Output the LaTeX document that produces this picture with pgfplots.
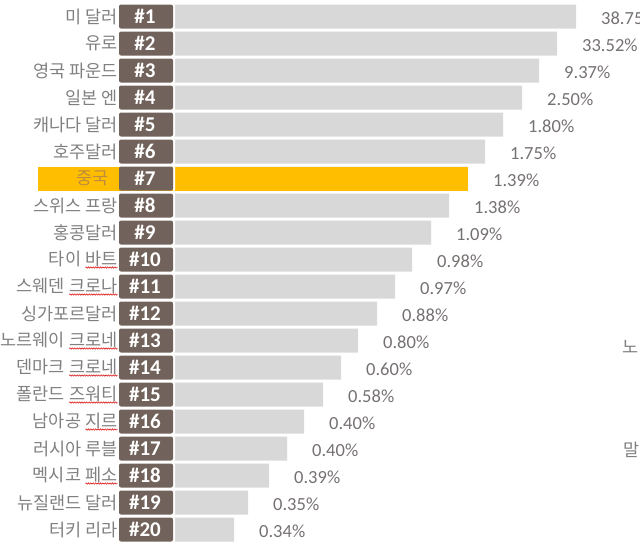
\documentclass[border=0pt]{standalone}
\usepackage{fontspec}
\setmainfont{Carlito}
\newfontfamily\kr{Noto Sans CJK KR}
\usepackage{pgfplots}
\usepackage{pgfplotstable}
\pgfplotsset{compat=1.18}
\usetikzlibrary{decorations.pathmorphing}
\definecolor{bargray}{RGB}{216,216,216}
\definecolor{boxbrown}{RGB}{113,99,91}
\definecolor{hl}{RGB}{255,191,0}
\definecolor{lblgray}{RGB}{128,128,128}
\definecolor{valgray}{RGB}{118,113,113}
\definecolor{tanc}{RGB}{190,140,60}
\newcommand\sq[1]{\tikz[baseline=(w.base)]{\node[inner sep=0pt, outer sep=0pt, anchor=base, xshift=0pt, yshift=0pt] (w) {#1};
  \draw[red!85!black, line width=0.5bp, decorate, decoration={snake, amplitude=0.7bp, segment length=2.4bp}] ([yshift=-2.5bp]w.base west) -- ([yshift=-2.5bp]w.base east);}}

\pgfplotstableread{
r len lab
1 403 38.75\%
2 384 33.52\%
3 366 9.37\%
4 349 2.50\%
5 330 1.80\%
6 312 1.75\%
7 295 1.39\%
8 276 1.38\%
9 258 1.09\%
10 239 0.98\%
11 222 0.97\%
12 204 0.88\%
13 185 0.80\%
14 168 0.60\%
15 150 0.58\%
16 131 0.40\%
17 114 0.40\%
18 96 0.39\%
19 75 0.35\%
20 61 0.34\%
}\data

\begin{document}
\begin{tikzpicture}
\begin{axis}[
  scale only axis, x=1bp, y=27bp, y dir=reverse,
  xmin=-173, xmax=467, ymin=0.389, ymax=20.574,
  axis on top,
  axis line style={draw=none}, major tick length=0pt, xtick=\empty,
  ytick={1,...,20},
  yticklabels={미 달러, 유로, 영국 파운드, 일본 엔, 캐나다 달러, 호주달러, {\textcolor{tanc}{중국}\hspace*{9bp}}, 스위스 프랑, 홍콩달러, 타이 \sq{바트}, 스웨덴 \sq{크로나}, 싱가포르달러, 노르웨이 \sq{크로네}, 덴마크 \sq{크로네}, 폴란드 \sq{즈워티}, 남아공 \sq{지르}, 러시아 루블, 멕시코 \sq{페소}, 뉴질랜드 달러, 터키 리라},
  yticklabel style={anchor=east, xshift=118bp, inner sep=0pt, font=\kr\fontsize{17.5bp}{19bp}\selectfont, text=lblgray},
  clip=false,
]
\addplot[xbar, bar shift=0pt, bar width=24bp, fill=hl, draw=none] coordinates {(-135,7)};
\addplot[xbar, bar shift=0pt, bar width=24bp, fill=bargray, draw=none,
  point meta=explicit symbolic, nodes near coords,
  every node near coord/.append style={anchor=west, xshift=25bp, yshift=-1.5bp, inner sep=0pt, font=\fontsize{18.5bp}{20bp}\selectfont, text=valgray}]
  table[x=len, y=r, meta=lab]{\data};
\addplot[xbar, bar shift=0pt, bar width=24bp, fill=hl, draw=none] coordinates {(295,7)};
\addplot[xbar, bar shift=0pt, bar width=24bp, fill=white, draw=none] coordinates {
(2,1) (2,2) (2,3) (2,4) (2,5) (2,6) (2,7) (2,8) (2,9) (2,10)
(2,11) (2,12) (2,13) (2,14) (2,15) (2,16) (2,17) (2,18) (2,19) (2,20)};
\addplot[xbar, bar shift=0pt, bar width=24bp, fill=boxbrown, draw=none, rounded corners=2bp,
  point meta=y, nodes near coords={\#\pgfmathprintnumber[assume math mode=true]{\pgfplotspointmeta}},
  every node near coord/.append style={anchor=center, xshift=26bp, inner sep=0pt, text=white, font=\bfseries\fontsize{21bp}{22bp}\selectfont}]
  coordinates {
(-54,1) (-54,2) (-54,3) (-54,4) (-54,5) (-54,6) (-54,7) (-54,8) (-54,9) (-54,10)
(-54,11) (-54,12) (-54,13) (-54,14) (-54,15) (-54,16) (-54,17) (-54,18) (-54,19) (-54,20)};
\node[anchor=west, inner sep=0pt, font=\kr\fontsize{17.5bp}{19bp}\selectfont, text=lblgray] at (axis cs:449,13.24) {노};
\node[anchor=west, inner sep=0pt, font=\kr\fontsize{17.5bp}{19bp}\selectfont, text=lblgray] at (axis cs:450,17.05) {말};
\end{axis}
\pgfresetboundingbox
\useasboundingbox (current axis.south west) rectangle (current axis.north east);
\end{tikzpicture}
\end{document}
